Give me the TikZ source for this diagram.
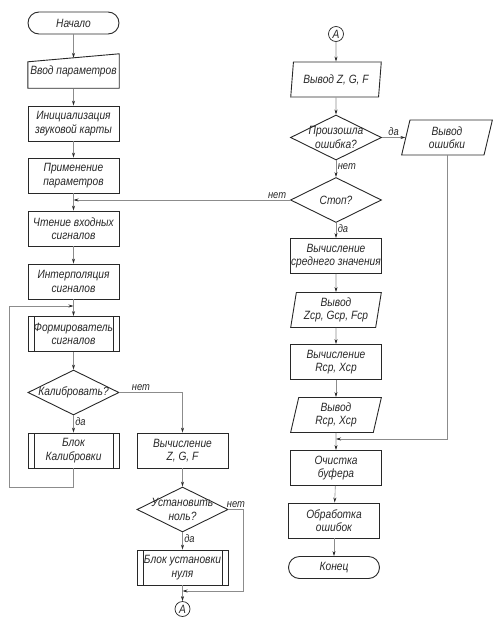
\documentclass[tikz,border=0pt]{standalone}
\usepackage{fontspec}
\setmainfont{Liberation Sans}[FakeStretch=0.85]
\usepackage{tikz}
\usetikzlibrary{shapes.geometric,arrows.meta,positioning}

\begin{document}
\begin{tikzpicture}[x=10pt, y=-10pt, font=\itshape\fontsize{12}{13.5}\selectfont]

        \useasboundingbox (0,0) rectangle (49.7,63.5);
        \definecolor{boxline}{RGB}{40,40,40}
        \definecolor{flowline}{RGB}{140,140,140}
        \tikzset{
            block/.style={draw=boxline, line width=0.9pt, minimum width=91pt, minimum height=35pt, inner sep=1pt, align=center, text=boxline},
            terminal/.style={block, rounded corners=11pt, minimum height=22pt},
            subproc/.style={block, path picture={\draw[boxline, line width=0.7pt] ([xshift=6pt]path picture bounding box.north west) -- ([xshift=6pt]path picture bounding box.south west) ([xshift=-6pt]path picture bounding box.north east) -- ([xshift=-6pt]path picture bounding box.south east);}},
            io/.style={block, trapezium, trapezium left angle=80, trapezium right angle=100, trapezium stretches=true},
            manual/.style={align=center, minimum width=91pt, minimum height=35pt, inner sep=1pt, text=boxline},
            decision/.style={draw=boxline, line width=0.9pt, diamond, minimum width=91pt, minimum height=45pt, inner sep=0pt},
            dtext/.style={align=center, text=boxline},
            connector/.style={draw=boxline, line width=0.7pt, circle, minimum size=15pt, inner sep=0pt, text=boxline},
            arrow/.style={-{Stealth[length=5pt, width=3pt, color=boxline]}, draw=flowline, line width=0.6pt},
            line/.style={draw=flowline, line width=0.6pt},
            answer/.style={font=\itshape\fontsize{11}{12}\selectfont, inner sep=1.5pt, text=boxline}
        }


        \node[terminal] (start) at (7.35, 2.3) {Начало};
        \node[manual] (params) at (7.35, 7.15) {Ввод параметров};
        \draw[boxline, line width=0.9pt] ([yshift=1pt]params.south west) -- ([yshift=1pt]params.south east) -- (params.north east) -- ([yshift=-8pt]params.north west) -- cycle;
        \node[block] (init) at (7.35, 12.35) {Инициализация\\звуковой карты};
        \node[block] (apply) at (7.35, 17.55) {Применение\\параметров};
        \node[block] (read) at (7.35, 22.85) {Чтение входных\\сигналов};
        \node[block] (interp) at (7.35, 28.15) {Интерполяция\\сигналов};
        \node[subproc] (form) at (7.35, 33.4) {Формирователь\\сигналов};
        \node[decision, label={[dtext]center:Калибровать?}] (calib) at (7.35, 39.25) {};
        \node[subproc] (calblk) at (7.35, 45.05) {Блок\\Калибровки};


        \node[block] (zgf) at (18.25, 45.05) {Вычисление\\Z, G, F};
        \node[decision, label={[dtext]center:Установить\\ноль?}] (zero) at (18.25, 50.95) {};
        \node[subproc] (zeroblk) at (18.25, 56.75) {Блок установки\\нуля};
        \node[connector] (conA) at (18.25, 60.9) {A};


        \node[connector] (topA) at (33.6, 3.4) {A};
        \node[io] (outzgf) at (33.6, 7.95) {Вывод Z, G, F};
        \node[decision, label={[dtext]center:Произошла\\ошибка?}] (err) at (33.6, 13.75) {};
        \node[io] (errout) at (44.7, 13.75) {Вывод\\ошибки};
        \node[decision, label={[dtext]center:Стоп?}] (stop) at (33.6, 20.0) {};
        \node[block] (mean) at (33.6, 25.6) {Вычисление\\среднего значения};
        \node[io] (outavg) at (33.6, 31.0) {Вывод\\Zср, Gср, Fср};
        \node[block] (calcrx) at (33.6, 36.2) {Вычисление\\Rср, Xср};
        \node[io] (outrx) at (33.6, 41.5) {Вывод\\Rср, Xср};
        \node[block] (clear) at (33.6, 46.8) {Очистка\\буфера};
        \node[block] (errproc) at (33.4, 52.05) {Обработка\\ошибок};
        \node[terminal] (finish) at (33.4, 56.75) {Конец};


        \coordinate (readin) at (7.35, 20.0);
        \coordinate (formin) at (7.35, 30.6);
        \coordinate (zeroout) at (18.25, 59.1);
        \coordinate (clearin) at (33.6, 43.9);


        \draw[arrow] (start) -- ([yshift=-4pt]params.north);
        \draw[arrow] (params) -- (init);
        \draw[arrow] (init) -- (apply);
        \draw[arrow] (apply) -- (read);
        \draw[arrow] (read) -- (interp);
        \draw[arrow] (interp) -- (form);
        \draw[arrow] (form) -- (calib);
        \draw[arrow] (calib) -- node[answer, right, pos=0.35] {да} (calblk);
        \draw[arrow] (calblk.south) |- (0.95, 48.7) |- (formin);
        \draw[arrow] (calib.east) -| node[answer, above, pos=0.17] {нет} (zgf);


        \draw[arrow] (zgf) -- (zero);
        \draw[arrow] (zero) -- node[answer, right, pos=0.35] {да} (zeroblk);
        \draw[arrow] (zeroblk) -- (conA);
        \draw[arrow] (zero.east) -- node[answer, above] {нет} ++(1.5, 0) |- (zeroout);


        \draw[arrow] (topA) -- (outzgf);
        \draw[arrow] (outzgf) -- (err);
        \draw[arrow] (err.east) -- node[answer, above] {да} (err.east -| errout.west);
        \draw[arrow] (err) -- node[answer, right, pos=0.35] {нет} (stop);
        \draw[arrow] (stop.west) -- node[answer, above, pos=0.06] {нет} (readin);
        \draw[arrow] (stop) -- node[answer, right, pos=0.35] {да} (mean);
        \draw[arrow] (mean) -- (outavg);
        \draw[arrow] (outavg) -- (calcrx);
        \draw[arrow] (calcrx) -- (outrx);
        \draw[arrow] (outrx) -- (clear);
        \draw[arrow] (errout.south) |- (clearin);
        \draw[arrow] (clear) -- (errproc);
        \draw[arrow] (errproc) -- (finish);

    \end{tikzpicture}
\end{document}
